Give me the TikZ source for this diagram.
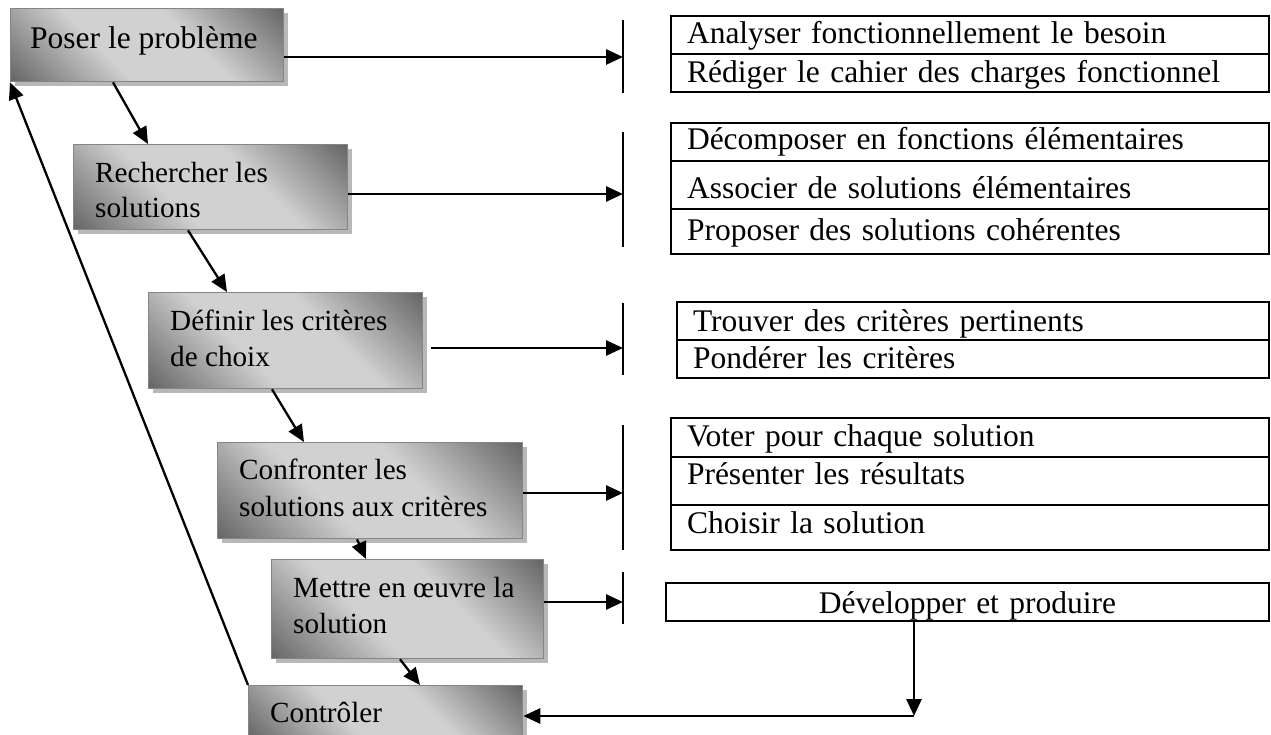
\documentclass[tikz,border=0pt]{standalone}
\usepackage{fontspec}
\setmainfont{Liberation Serif}
\usetikzlibrary{arrows.meta,shadows}
\definecolor{stageDark}{HTML}{676767}
\definecolor{stageLight}{HTML}{D1D1D1}
\definecolor{stageEdge}{HTML}{858585}
\definecolor{stageShadow}{HTML}{B8B8B8}
% diagonal band: dark corners, light middle
\pgfdeclareverticalshading{stagegrad}{100bp}{color(0bp)=(stageDark); color(15bp)=(stageDark);
  color(40bp)=(stageLight); color(60bp)=(stageLight); color(85bp)=(stageDark); color(100bp)=(stageDark)}
\newcommand\diagfont{\fontsize{31.5}{36}\selectfont}
\newcommand\stagefont{\fontsize{29.2}{36}\selectfont}
\begin{document}
\begin{tikzpicture}[x=1pt,y=-1pt,
  stage/.style={anchor=north west, inner sep=0pt, draw=stageEdge, line width=1.3pt,
    shading=stagegrad, shading angle=-45,
    drop shadow={shadow xshift=4pt, shadow yshift=-4pt, fill=stageShadow, opacity=1}},
  lbl/.style={anchor=base west, inner sep=0pt, font=\stagefont},
  task/.style={draw, line width=2pt, anchor=north west, inner xsep=16pt, inner ysep=0pt,
    text width=566pt, align=left, font=\diagfont},
  arr/.style={line width=2.8pt, -{Triangle[length=17pt,width=15pt]}},
  flow/.style={line width=2.3pt, -{Triangle[length=17pt,width=15pt]}},
  bar/.style={line width=1.8pt}]
\useasboundingbox (0,0) rectangle (1271,735);
\fill[white] (0,0) rectangle (1271,735);

% process stages
\node[stage, minimum width=273pt, minimum height=73pt] (b1) at (10,8) {};
\node[stage, minimum width=274pt, minimum height=85pt] (b2) at (73,144) {};
\node[stage, minimum width=274pt, minimum height=96pt] (b3) at (148,292) {};
\node[stage, minimum width=305pt, minimum height=96pt] (b4) at (217,442) {};
\node[stage, minimum width=272pt, minimum height=99pt] (b5) at (271,559) {};
\node[stage, minimum width=274pt, minimum height=54pt] (b6) at (248,685) {};

\node[lbl, font=\diagfont] (t1) at (30,49) {Poser le problème};
\node[lbl] (t2a) at (95,183) {Rechercher les};
\node[lbl] (t2b) at (95,218) {solutions};
\node[lbl] (t3a) at (170,330) {Définir les critères};
\node[lbl] (t3b) at (170,366) {de choix};
\node[lbl] (t4a) at (239,479) {Confronter les};
\node[lbl] (t4b) at (239,516) {solutions aux critères};
\node[lbl] (t5a) at (293,597) {Mettre en œuvre la};
\node[lbl] (t5b) at (293,633) {solution};
\node[lbl] (t6)  at (270,722) {Contrôler};

% tasks of each stage
\node[task, text height=28pt, text depth=10pt] (r1a) at (670,15) {Analyser fonctionnellement le besoin};
\node[task, text height=29pt, text depth=9pt]  (r1b) at (670,53) {Rédiger le cahier des charges fonctionnel};

\node[task, text height=27pt, text depth=11pt] (r2a) at (670,122) {Décomposer en fonctions élémentaires};
\node[task, text height=38pt, text depth=10pt] (r2b) at (670,160) {Associer de solutions élémentaires};
\node[task, text height=32pt, text depth=13pt] (r2c) at (670,208) {Proposer des solutions cohérentes};

\node[task, text width=560pt, text height=29pt, text depth=9pt]  (r3a) at (676,301) {Trouver des critères pertinents};
\node[task, text width=560pt, text height=28pt, text depth=10pt] (r3b) at (676,339) {Pondérer les critères};

\node[task, text height=28pt, text depth=11pt] (r4a) at (670,417) {Voter pour chaque solution};
\node[task, text height=27pt, text depth=21pt] (r4b) at (670,456) {Présenter les résultats};
\node[task, text height=28pt, text depth=17pt] (r4c) at (670,504) {Choisir la solution};

\node[task, text width=571pt, align=center, text height=30pt, text depth=8pt] (r5) at (665,582) {Développer et produire};

% separators in front of each task list
\draw[bar] (623,20) -- (623,93);
\draw[bar] (623,132) -- (623,247);
\draw[bar] (623,303) -- (623,375);
\draw[bar] (623,425) -- (623,550);
\draw[bar] (623,572) -- (623,624);

\coordinate (k1) at (623,57);
\coordinate (k2) at (623,194);
\coordinate (k3) at (623,348);
\coordinate (k4) at (623,493);
\coordinate (k5) at (623,602);
\coordinate (kb) at (914,716);

% stage to task arrows
\draw[arr] (b1.east |- k1) -- (k1);
\draw[arr] (b2.east |- k2) -- (k2);
\draw[arr] ([xshift=8pt]b3.east |- k3) -- (k3);
\draw[arr] (b4.east |- k4) -- (k4);
\draw[arr] (b5.east |- k5) -- (k5);

% sequence of stages
\draw[flow] ([xshift=103pt]b1.south west) -- ([xshift=75pt]b2.north west);
\draw[flow] ([xshift=115pt]b2.south west) -- ([xshift=79pt]b3.north west);
\draw[flow] ([xshift=124pt]b3.south west) -- ([xshift=87pt]b4.north west);
\draw[flow] ([xshift=140pt]b4.south west) -- ([xshift=95pt]b5.north west);
\draw[flow] ([xshift=129pt]b5.south west) -- ([xshift=172pt]b6.north west);

% feedback loop
\draw[flow] (b6.north west) -- (b1.south west);

% production back to control
\draw[arr] (r5.south -| kb) -- (kb);
\draw[arr] (kb) -- (b6.east |- kb);
\end{tikzpicture}
\end{document}
